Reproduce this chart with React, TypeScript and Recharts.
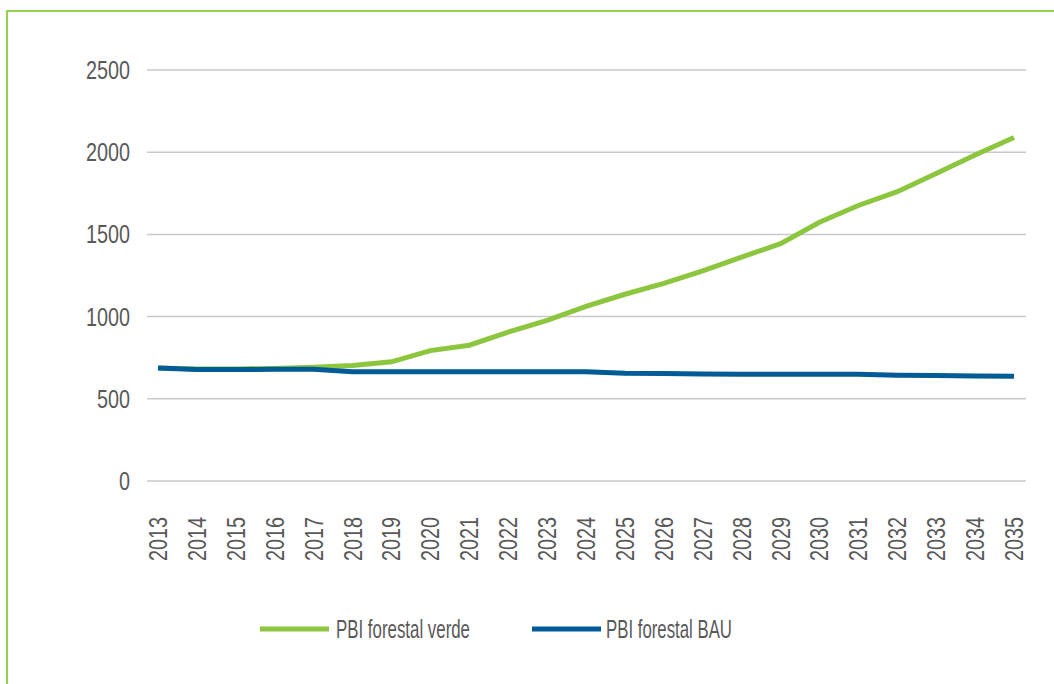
import React from 'react';
import { LineChart, Line, XAxis, YAxis, CartesianGrid, Legend } from 'recharts';

const years = ['2013','2014','2015','2016','2017','2018','2019','2020','2021','2022','2023','2024','2025','2026','2027','2028','2029','2030','2031','2032','2033','2034','2035'];
const verde = [688, 681, 682, 685, 692, 703, 725, 793, 826, 906, 977, 1062, 1136, 1202, 1278, 1362, 1444, 1574, 1676, 1760, 1870, 1983, 2089];
const bau = [688, 678, 678, 679, 680, 665, 665, 665, 665, 665, 665, 665, 656, 654, 651, 650, 650, 650, 650, 643, 641, 639, 637];
const yTicks = [0, 500, 1000, 1500, 2000, 2500];
const seriesNames = ['PBI forestal verde', 'PBI forestal BAU'];
const seriesColors = ['#8cc63f', '#005b96'];

const data = years.map((y, i) => ({ year: y, verde: verde[i], bau: bau[i] }));

const FONT = '"Liberation Sans", Arial, sans-serif';
const TEXT = '#595959';
const FS = 25;
const DIGIT_W = 11;

const XTick = (props: any) => {
  const { x, y, payload } = props;
  const s = String(payload.value);
  return (
    <text
      x={x}
      y={y}
      transform={`rotate(-90, ${x}, ${y})`}
      textAnchor="end"
      dy="0.36em"
      fill={TEXT}
      fontSize={FS}
      fontFamily={FONT}
      textLength={s.length * DIGIT_W}
      lengthAdjust="spacingAndGlyphs"
    >
      {s}
    </text>
  );
};

const YTick = (props: any) => {
  const { x, y, payload } = props;
  const s = String(payload.value);
  return (
    <text
      x={x}
      y={y}
      textAnchor="end"
      dy="0.36em"
      fill={TEXT}
      fontSize={FS}
      fontFamily={FONT}
      textLength={s.length * DIGIT_W}
      lengthAdjust="spacingAndGlyphs"
    >
      {s}
    </text>
  );
};

const legendLayout = [
  { lineX: 260, textX: 336, textW: 134 },
  { lineX: 532, textX: 606, textW: 126 },
];

const LegendContent = () => (
  <svg width={1054} height={50} style={{ display: 'block' }}>
    {seriesNames.map((n, i) => (
      <g key={n}>
        <line x1={legendLayout[i].lineX} x2={legendLayout[i].lineX + 69} y1={25} y2={25} stroke={seriesColors[i]} strokeWidth={5} />
        <text
          x={legendLayout[i].textX}
          y={25}
          dy="0.36em"
          fill={TEXT}
          fontSize={FS}
          fontFamily={FONT}
          textLength={legendLayout[i].textW}
          lengthAdjust="spacingAndGlyphs"
        >
          {n}
        </text>
      </g>
    ))}
  </svg>
);

export default function App() {
  return (
    <div style={{ position: 'absolute', left: 0, top: 0, width: 1054, height: 684, background: '#fff', overflow: 'hidden' }}>
      <div style={{ position: 'absolute', left: 6, top: 10, width: 1100, height: 700, borderLeft: '2px solid #92d050', borderTop: '2px solid #92d050' }} />
      <LineChart width={1054} height={684} data={data} margin={{ top: 70, right: 28, left: 0, bottom: 30 }}>
        <CartesianGrid vertical={false} stroke="#c9c9c9" strokeWidth={1.5} />
        <XAxis
          dataKey="year"
          axisLine={false}
          tickLine={false}
          tickMargin={30}
          height={123}
          interval={0}
          padding={{ left: 11, right: 12 }}
          tick={<XTick />}
        />
        <YAxis
          domain={[0, 2500]}
          ticks={yTicks}
          axisLine={false}
          tickLine={false}
          tickMargin={11}
          width={147}
          tick={<YTick />}
        />
        <Legend verticalAlign="bottom" content={<LegendContent />} wrapperStyle={{ left: 0, width: 1054 }} />
        <Line type="linear" dataKey="verde" name={seriesNames[0]} stroke={seriesColors[0]} strokeWidth={5} dot={false} isAnimationActive={false} />
        <Line type="linear" dataKey="bau" name={seriesNames[1]} stroke={seriesColors[1]} strokeWidth={5} dot={false} isAnimationActive={false} />
      </LineChart>
    </div>
  );
}
